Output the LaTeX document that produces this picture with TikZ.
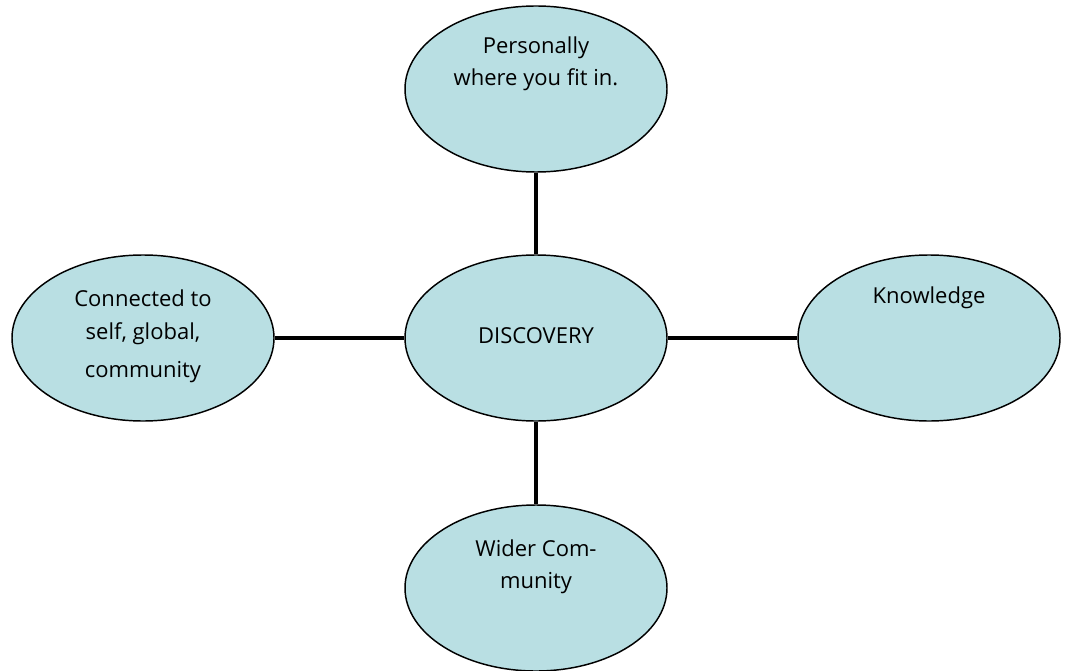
\documentclass[tikz,border=0pt]{standalone}
\usepackage{fontspec}
\setmainfont{Open Sans}
\usetikzlibrary{shapes.geometric}
\definecolor{bubble}{HTML}{B9DFE3}
\tikzset{
  bubble/.style={ellipse, draw=black, line width=1.1pt, fill=bubble, minimum width=196.5pt, minimum height=124.5pt, inner sep=0pt},
  lbl/.style={font=\fontsize{16.5}{24}\selectfont, align=center, inner sep=0pt, anchor=center},
  link/.style={line width=3.7pt}
}
\begin{document}
\begin{tikzpicture}[x=0.75pt,y=-0.75pt]
\useasboundingbox (0,0) rectangle (1069,670);
\node[bubble] (top) at (536,89) {};
\node[bubble] (mid) at (536,338) {};
\node[bubble] (left) at (143,338) {};
\node[bubble] (right) at (929,338) {};
\node[bubble] (bot) at (536,588) {};
\draw[link] (top) -- (mid);
\draw[link] (mid) -- (bot);
\draw[link] (left) -- (mid);
\draw[link] (mid) -- (right);
\node[lbl] (t1) at (536,48) {Personally};
\node[lbl] (t2) at (536,80) {where you fit in.};
\node[lbl] (m1) at (536,336) {DISCOVERY};
\node[lbl] (l1) at (143,298) {Connected to};
\node[lbl] (l2) at (143,334) {self, global,};
\node[lbl] (l3) at (143,372) {community};
\node[lbl] (r1) at (929,298) {Knowledge};
\node[lbl] (b1) at (536,548) {Wider Com-};
\node[lbl] (b2) at (536,583) {munity};
\end{tikzpicture}
\end{document}
